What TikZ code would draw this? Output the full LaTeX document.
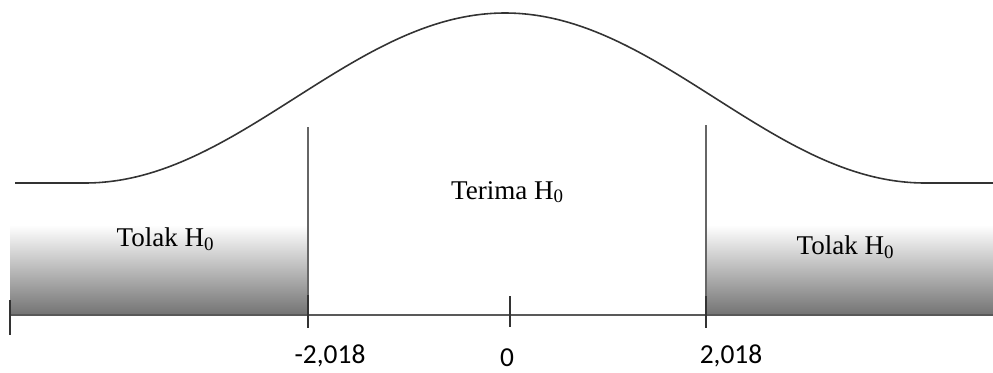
\documentclass[tikz,border=0pt]{standalone}
\usepackage{fontspec}
\setmainfont{Liberation Serif}
\newfontfamily\angkafont{Carlito}
\usetikzlibrary{positioning,calc}
\colorlet{garis}{black!80}
\colorlet{arsir}{black!55}
\tikzset{
  daerah/.style={top color=white,bottom color=arsir,draw=none},
  batas/.style={draw=black!60,line width=.45pt},
  takik/.style={draw=garis,line width=.4pt},
  label/.style={font=\fontsize{7.7}{9}\selectfont,inner sep=0pt},
  angka/.style={font=\angkafont\fontsize{7.8}{9}\selectfont,inner sep=0pt}
}
\begin{document}
\begin{tikzpicture}[x=.1mm,y=-.1mm]
    \useasboundingbox (0,0) rectangle (993,372);
    % daerah penolakan
    \fill[daerah] (10,225) rectangle (308,315);
    \fill[daerah] (706,225) rectangle (993,315);
    % kurva
    \draw[garis,line width=.45pt,domain=15:993,samples=150,smooth]
      plot (\x,{183-85*(1+cos(0.428571*min(abs(\x-505),420)))});
    % sumbu
    \coordinate (kiri) at (10,315);
    \coordinate (kanan) at (993,315);
    \coordinate (nkiri) at (308,315);
    \coordinate (nol) at (510,315);
    \coordinate (nkanan) at (706,315);
    \draw[draw=black!65,line width=.55pt] (kiri) -- (kanan);
    \draw[batas] (nkiri) -- ++(0,-188);
    \draw[batas] (nkanan) -- ++(0,-190);
    \draw[takik] ($(kiri)+(0,-15)$) -- ($(kiri)+(0,20)$);
    \draw[takik] ($(nkiri)+(0,-20)$) -- ($(nkiri)+(0,13)$);
    \draw[takik] ($(nol)+(0,-19)$) -- ($(nol)+(0,12)$);
    \draw[takik] ($(nkanan)+(0,-19)$) -- ($(nkanan)+(0,13)$);
    % teks
    \node[label] (tolakkiri) at (166,239) {Tolak H\textsubscript{0}};
    \node[label] (terima) at (508,192) {Terima H\textsubscript{0}};
    \node[label] (tolakkanan) at (846,247) {Tolak H\textsubscript{0}};
    \node[angka] (tkiri) at (330,356) {-2,018};
    \node[angka] (tnol) at (507,358) {0};
    \node[angka] (tkanan) at (731,356) {2,018};
  \end{tikzpicture}
\end{document}
